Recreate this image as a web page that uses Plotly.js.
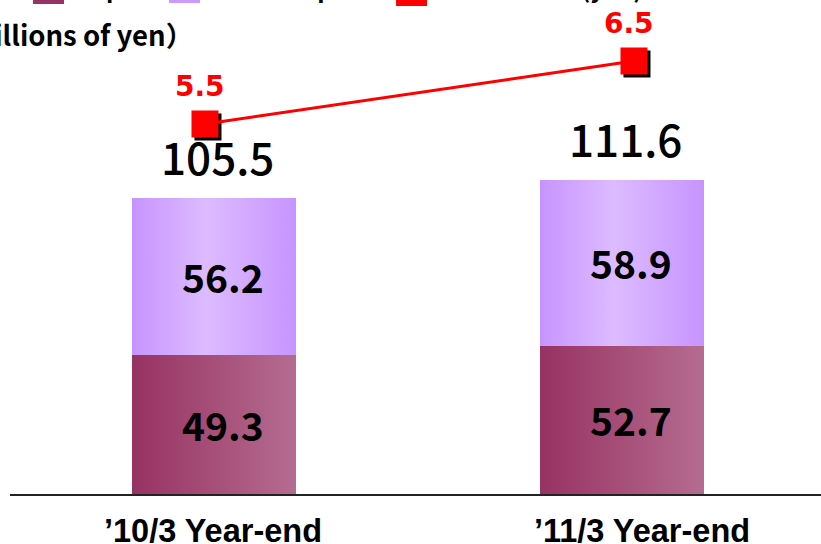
<!DOCTYPE html>
<html>
<head>
<meta charset="utf-8">
<script src="https://cdn.plot.ly/plotly-3.0.1.min.js"></script>
<style>
  html, body { margin: 0; padding: 0; background: #ffffff; }
  #chart { width: 821px; height: 544px; }
</style>
</head>
<body>
<div id="chart"></div>
<script>
// Year-end balances (billions of yen) and the line series on the right scale
const categories = ['\u201910/3 Year-end', '\u201911/3 Year-end'];
const seriesNames = ['Deposits', 'Other deposits', 'Net income (yen)'];
const lowerValues = [49.3, 52.7];
const upperValues = [56.2, 58.9];
const lineValues = [5.5, 6.5];
const unitLabel = '\uFF08billions of yen\uFF09';

const totals = lowerValues.map((v, i) => v + upperValues[i]);
const fmt = v => v.toFixed(1);

const GOTHIC = '"Noto Sans CJK JP", "Noto Sans", sans-serif';
const ARIAL = '"Liberation Sans", Arial, sans-serif';
const WIDE = '"DejaVu Sans", Verdana, sans-serif';

const COLORS = ['#993366', '#CC99FF', '#FF0000'];
const BAR_WIDTH = 0.402;

const traces = [
  {
    type: 'bar', name: seriesNames[0], x: categories, y: lowerValues,
    width: BAR_WIDTH, marker: { color: COLORS[0] }, hoverinfo: 'skip'
  },
  {
    type: 'bar', name: seriesNames[1], x: categories, y: upperValues,
    width: BAR_WIDTH, marker: { color: COLORS[1] }, hoverinfo: 'skip'
  },
  {
    // drop shadow under the square markers (offset after drawing)
    type: 'scatter', mode: 'markers', x: categories, y: lineValues,
    xaxis: 'x2', yaxis: 'y2', hoverinfo: 'skip',
    marker: { symbol: 'square', size: 27, color: '#000000' }
  },
  {
    type: 'scatter', mode: 'lines+markers', name: seriesNames[2], x: categories, y: lineValues,
    xaxis: 'x2', yaxis: 'y2', hoverinfo: 'skip',
    line: { color: COLORS[2], width: 3 },
    marker: { symbol: 'square', size: 27, color: COLORS[2] }
  }
];

const annotations = [];
categories.forEach((c, i) => {
  annotations.push({
    xref: 'x', yref: 'y', x: c, y: lowerValues[i] / 2, text: fmt(lowerValues[i]),
    showarrow: false, xshift: 9, yshift: 1,
    font: { family: GOTHIC, size: 39, weight: 'bold', color: '#000000' }
  });
  annotations.push({
    xref: 'x', yref: 'y', x: c, y: lowerValues[i] + upperValues[i] / 2, text: fmt(upperValues[i]),
    showarrow: false, xshift: 9, yshift: 1,
    font: { family: GOTHIC, size: 39, weight: 'bold', color: '#000000' }
  });
  annotations.push({
    xref: 'x', yref: 'y', x: c, y: totals[i], text: fmt(totals[i]),
    showarrow: false, xshift: 3, yshift: 42,
    font: { family: GOTHIC, size: 44, weight: 500, color: '#000000' }
  });
  annotations.push({
    xref: 'x2', yref: 'y2', x: c, y: lineValues[i], text: fmt(lineValues[i]),
    showarrow: false, xshift: -5, yshift: 37,
    font: { family: WIDE, size: 28, weight: 'bold', color: '#FF0000' }
  });
});
annotations.push({
  xref: 'paper', yref: 'paper', x: 0.228, y: 0.932, xanchor: 'right', yanchor: 'middle',
  text: unitLabel, showarrow: false,
  font: { family: GOTHIC, size: 27.5, weight: 'bold', color: '#000000' }
});

// legend row along the top edge: swatch boxes and names (paper coordinates)
const legendSwatchX = [[0.0284, 0.0666], [0.1961, 0.2343], [0.4760, 0.5142]];
const legendSwatchY = [[0.9919, 1.0547], [0.9939, 1.0567], [0.9879, 1.0506]];
const legendTextX = [0.0777, 0.2491, 0.5303];
const shapes = [];
seriesNames.forEach((name, i) => {
  shapes.push({
    type: 'rect', xref: 'paper', yref: 'paper',
    x0: legendSwatchX[i][0], x1: legendSwatchX[i][1],
    y0: legendSwatchY[i][0], y1: legendSwatchY[i][1],
    fillcolor: COLORS[i], line: { width: 0 }, layer: 'above'
  });
  annotations.push({
    xref: 'paper', yref: 'paper', x: legendTextX[i], y: 1.0262,
    xanchor: 'left', yanchor: 'middle', text: name, showarrow: false,
    font: { family: GOTHIC, size: 24, weight: 'bold', color: '#000000' }
  });
});

const layout = {
  width: 821, height: 544,
  margin: { l: 10, r: 0, t: 0, b: 50, autoexpand: false },
  paper_bgcolor: '#ffffff', plot_bgcolor: '#ffffff',
  barmode: 'stack',
  showlegend: false,
  xaxis: {
    type: 'category', range: [-0.5, 1.4877],
    showticklabels: false, ticks: '', showgrid: false, zeroline: false,
    showline: true, linecolor: '#222222', linewidth: 1.5, fixedrange: true
  },
  yaxis: { range: [0, 175.8], visible: false, fixedrange: true },
  xaxis2: {
    type: 'category', overlaying: 'x', anchor: 'y', side: 'bottom',
    range: [-0.4545, 1.4359], showgrid: false, showline: false, zeroline: false, ticks: '',
    ticklabelshift: 8, ticklabelstandoff: 14,
    tickfont: { family: ARIAL, size: 32.5, weight: 'bold', color: '#000000' }, fixedrange: true
  },
  yaxis2: { overlaying: 'y', range: [-0.373, 7.468], visible: false, fixedrange: true },
  shapes: shapes,
  annotations: annotations
};

const SVGNS = 'http://www.w3.org/2000/svg';
function addGradient(defs, id, stops) {
  if (defs.querySelector('#' + id)) return;
  const g = document.createElementNS(SVGNS, 'linearGradient');
  g.setAttribute('id', id);
  g.setAttribute('x1', '0'); g.setAttribute('y1', '0');
  g.setAttribute('x2', '1'); g.setAttribute('y2', '0');
  stops.forEach(([off, col]) => {
    const s = document.createElementNS(SVGNS, 'stop');
    s.setAttribute('offset', off);
    s.setAttribute('stop-color', col);
    g.appendChild(s);
  });
  defs.appendChild(g);
}

function decorate(gd) {
  const svg = gd.querySelector('svg.main-svg');
  let defs = svg.querySelector('defs');
  if (!defs) { defs = document.createElementNS(SVGNS, 'defs'); svg.insertBefore(defs, svg.firstChild); }
  addGradient(defs, 'fillLower', [['0', '#973262'], ['1', '#B56C90']]);
  addGradient(defs, 'fillUpper', [['0', '#C794FF'], ['0.45', '#DDBBFF'], ['1', '#C794FF']]);

  // horizontal shading on the stacked bars
  const fills = ['url(#fillLower)', 'url(#fillUpper)'];
  gd.querySelectorAll('.barlayer .trace').forEach((t, i) => {
    t.querySelectorAll('.point path').forEach(p => { p.style.fill = fills[i]; });
  });

  // shift the black squares to form a shadow
  const scatterTraces = gd.querySelectorAll('.scatterlayer .trace');
  if (scatterTraces[0]) {
    const pts = scatterTraces[0].querySelector('.points');
    if (pts) pts.setAttribute('transform', 'translate(3,3)');
  }
}

Plotly.newPlot('chart', traces, layout, { staticPlot: true, displayModeBar: false }).then(gd => {
  decorate(gd);
});
</script>
</body>
</html>
